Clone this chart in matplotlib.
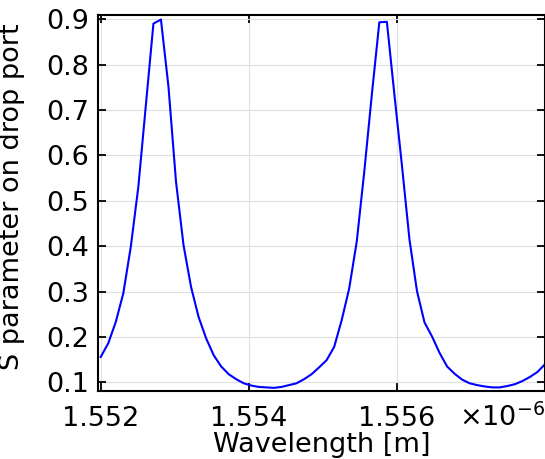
# S parameter on drop port vs wavelength (COMSOL-style plot)
import numpy as np
import matplotlib
matplotlib.use('Agg')
import matplotlib.pyplot as plt
from matplotlib.ticker import FuncFormatter

# wavelength sweep: 60 points from 1.552 um to 1.558 um
wavelength = np.linspace(1.552e-6, 1.558e-6, 60)

# S parameter
s_drop = [0.156, 0.186, 0.233, 0.296, 0.399, 0.531, 0.711, 0.890, 0.899, 0.751,
          0.542, 0.402, 0.310, 0.244, 0.197, 0.160, 0.135, 0.118, 0.107, 0.098,
          0.093, 0.090, 0.089, 0.088, 0.090, 0.094, 0.098, 0.107, 0.118, 0.133,
          0.149, 0.178, 0.237, 0.307, 0.410, 0.564, 0.733, 0.893, 0.894, 0.734,
          0.578, 0.415, 0.301, 0.232, 0.201, 0.165, 0.135, 0.119, 0.106, 0.098,
          0.094, 0.091, 0.089, 0.089, 0.092, 0.096, 0.103, 0.112, 0.123, 0.140]

xticks = [1.552e-6, 1.554e-6, 1.556e-6]
yticks = [0.1, 0.2, 0.3, 0.4, 0.5, 0.6, 0.7, 0.8, 0.9]

plt.rcParams['font.family'] = 'DejaVu Sans'
fig = plt.figure(figsize=(5.45, 4.59), dpi=100)
ax = fig.add_axes([0.1807, 0.1481, 0.8193, 0.8192])

ax.plot(wavelength, s_drop, color='#0000ff', lw=1.5)

ax.set_xlim(1.55197e-6, 1.558e-6)
ax.set_ylim(0.081, 0.909)
ax.set_xticks(xticks)
ax.set_yticks(yticks)
ax.xaxis.set_major_formatter(FuncFormatter(lambda v, p: f'{v*1e6:.3f}'))
ax.yaxis.set_major_formatter(FuncFormatter(lambda v, p: f'{v:.1f}'))
ax.grid(True, color='#e0e0e0', lw=0.8)
ax.set_axisbelow(True)

ax.tick_params(direction='in', length=6, width=1.3, labelsize=19.5,
               top=True, right=True)
ax.tick_params(axis='x', pad=11)
ax.tick_params(axis='y', pad=7)
for s in ax.spines.values():
    s.set_linewidth(1.5)

ax.set_xlabel('Wavelength [m]', fontsize=19.5, labelpad=0)
ax.set_ylabel('S parameter on drop port', fontsize=19.5)
ax.yaxis.set_label_coords(-0.165, 0.517)

ax.text(1.0, -0.093, r'$\times$10$^{-6}$', transform=ax.transAxes,
        ha='right', va='baseline', fontsize=19.5)

fig.savefig('out.png', dpi=100)
